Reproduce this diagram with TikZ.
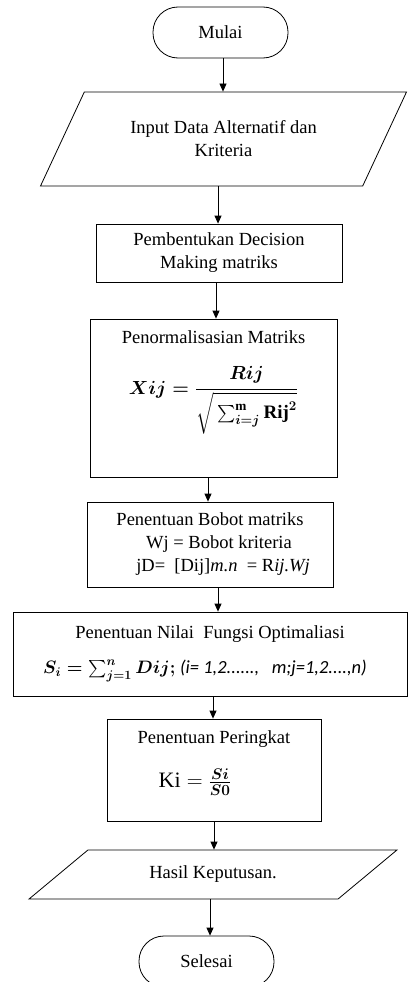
\RequirePackage{fix-cm}
\documentclass[tikz,border=0pt]{standalone}
\usepackage{amsmath}
\usepackage{fontspec}
\setmainfont{Liberation Serif}
\newfontfamily\notefont{Carlito}
\usetikzlibrary{shapes.geometric,arrows.meta}

\newcommand{\boxfont}{\fontsize{18.5}{23}\selectfont}
\newcommand{\mathbig}{\fontsize{19}{23}\selectfont\boldmath}

\tikzset{
    terminal/.style={draw, line width=0.8pt, rounded corners=25pt, minimum width=135pt, minimum height=51pt, font=\boxfont},
    process/.style={draw, line width=0.8pt, align=center, inner sep=2pt, font=\boxfont},
    io/.style={draw, line width=0.8pt, trapezium, trapezium stretches=true, align=center, inner sep=2pt, font=\boxfont},
    boxtext/.style={anchor=north, align=center, inner sep=0pt, font=\boxfont},
    flow/.style={-{Triangle[length=8pt,width=7pt]}, line width=0.8pt},
}

\begin{document}
\begin{tikzpicture}[x=1pt,y=-1pt]
        \useasboundingbox (0,0) rectangle (408,982);

        \node[terminal] (mulai) at (220.5,32.5) {Mulai};
        \node[io, trapezium left angle=53.3, trapezium right angle=126.7, minimum width=367pt, minimum height=94pt] (input) at (223.5,139) {Input Data Alternatif dan\\Kriteria};
        \node[process, minimum width=246pt, minimum height=58pt] (bentuk) at (219,253) {Pembentukan Decision\\Making matriks};

        \node[process, minimum width=247pt, minimum height=158pt] (normal) at (213.5,398) {};
        \node[boxtext] (normaltext) at ([yshift=-12pt]normal.north) {Penormalisasian Matriks\\[22pt]
            {\mathbig$\displaystyle Xij=\frac{Rij}{\sqrt{\vphantom{\Big(}\sum_{i=j}^{\mathrm{m}}\mathrm{Rij}^2}}$}};

        \node[process, minimum width=246pt, minimum height=85pt] (bobot) at (210,544.5) {Penentuan Bobot matriks\\
            \hspace*{18pt}Wj = Bobot kriteria\\
            \hspace*{26pt}jD=~ [Dij]\textit{m.n} ~= R\textit{ij.Wj}};
        \node[process, minimum width=394pt, minimum height=84pt] (fungsi) at (210,654) {Penentuan Nilai~ Fungsi Optimaliasi\\[12pt]
            \hspace*{-10pt}{\fontsize{18}{22}\selectfont\boldmath$S_i=\sum_{j=1}^{n} Dij;$} {\notefont\itshape\fontsize{18.5}{20}\selectfont (i=~1,2......, ~~m;j=1,2....,n)}};

        \node[process, minimum width=214pt, minimum height=102pt] (peringkat) at (214,770) {};
        \node[boxtext] (peringkattext) at ([yshift=-12pt]peringkat.north) {Penentuan Peringkat\\[20pt]
            \hspace*{-38pt}{\fontsize{22}{24}\selectfont$\mathrm{Ki}=\frac{\boldsymbol{Si}}{\boldsymbol{S0}}$}};

        \node[io, trapezium left angle=33.9, trapezium right angle=146.1, minimum width=368pt, minimum height=49pt] (hasil) at (213,874.5) {Hasil Keputusan.};
        \node[terminal] (selesai) at (206.5,961.5) {Selesai};

        \draw[flow] ([xshift=2.5pt]mulai.south) -- ([xshift=2.5pt]mulai.south |- input.north);
        \draw[flow] ([xshift=-5.5pt]input.south) -- ([xshift=-5.5pt]input.south |- bentuk.north);
        \draw[flow] ([xshift=-3pt]bentuk.south) -- ([xshift=-3pt]bentuk.south |- normal.north);
        \draw[flow] ([xshift=-5.5pt]normal.south) -- ([xshift=-5.5pt]normal.south |- bobot.north);
        \draw[flow] ([xshift=8pt]bobot.south) -- ([xshift=8pt]bobot.south |- fungsi.north);
        \draw[flow] ([xshift=3pt]fungsi.south) -- ([xshift=3pt]fungsi.south |- peringkat.north);
        \draw[flow] (peringkat.south) -- (peringkat.south |- hasil.north);
        \draw[flow] ([xshift=-3pt]hasil.south) -- ([xshift=-3pt]hasil.south |- selesai.north);
    \end{tikzpicture}
\end{document}
